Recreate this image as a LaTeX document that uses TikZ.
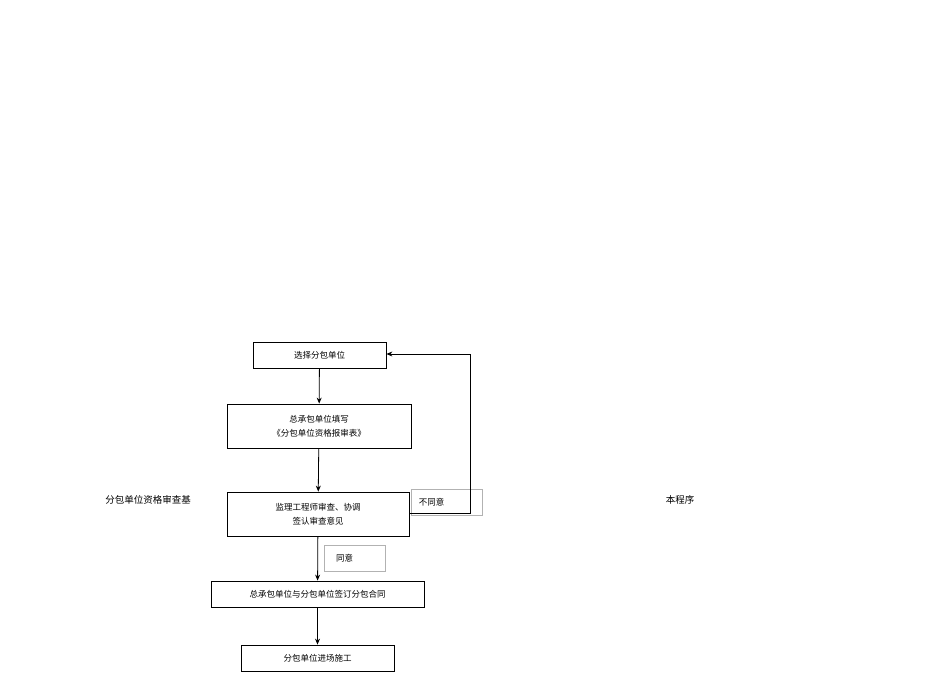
\documentclass[tikz,border=0pt]{standalone}
\usepackage{fontspec}
\newfontfamily\cjk{Noto Sans CJK SC}
\usetikzlibrary{arrows.meta}
\begin{document}
\begin{tikzpicture}[x=1pt,y=-1pt,
  box/.style={draw,thick,minimum height=#1,inner sep=0pt,align=center,font=\cjk\fontsize{8.5}{14}\selectfont},
  box/.default=26pt,
  lbl/.style={draw=black!30,minimum width=61pt,minimum height=26pt,inner sep=0pt,font=\cjk\fontsize{8.5}{10}\selectfont},
  arr/.style={thick,-{Stealth[length=6pt,width=5pt]}},
  plain/.style={font=\cjk\fontsize{9.5}{11}\selectfont}]
\useasboundingbox (0,0) rectangle (950,672);
\node[box,minimum width=133pt] (b1) at (319.5,355) {选择分包单位};
\node[box=44pt,minimum width=184pt] (b2) at (319,426) {总承包单位填写\\《分包单位资格报审表》};
\node[box=44pt,minimum width=182pt] (b3) at (318,514) {监理工程师审查、协调\\签认审查意见};
\node[box,minimum width=213pt] (b4) at (317.5,594) {总承包单位与分包单位签订分包合同};
\node[box,minimum width=153pt] (b5) at (317.5,658) {分包单位进场施工};
\node[lbl,minimum width=71pt] (no) at (446.5,502) {\hspace*{-30pt}不同意};
\node[lbl] (yes) at (354.5,558) {\hspace*{-20pt}同意};
\node[plain] (l) at (148,500) {分包单位资格审查基};
\node[plain] (r) at (680,500) {本程序};
\coordinate (c1) at (470,513);
\coordinate (c2) at (470,354);
\draw[arr] (b1) -- (b2);
\draw[arr] (b2) -- (b3);
\draw[arr] (b3) -- (b4);
\draw[arr] (b4) -- (b5);
\draw[arr] (b3.east |- c1) -- (c1) -- (c2) -- (b1.east |- c2);
\end{tikzpicture}
\end{document}
